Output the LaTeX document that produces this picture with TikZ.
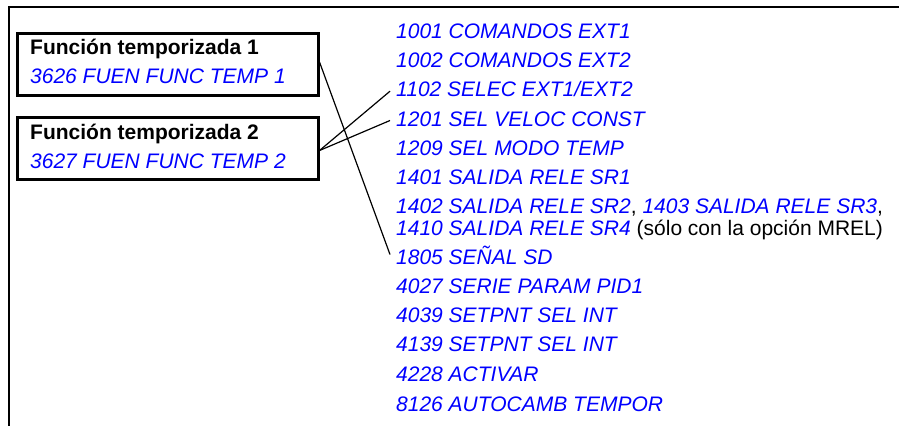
\documentclass[tikz,border=0pt]{standalone}
\usepackage{fontspec}
\setmainfont{Liberation Sans}
\begin{document}
\begin{tikzpicture}[x=1pt,y=-1pt,
  font=\fontsize{21}{25}\selectfont,
  frame/.style={line width=1.8pt},
  boxnode/.style={draw, line width=3pt, minimum width=301pt, minimum height=62pt, inner sep=0pt},
  conn/.style={line width=1.2pt},
  head/.style={anchor=base west, inner sep=0pt, font=\fontsize{21}{25}\selectfont\bfseries},
  par/.style={anchor=base west, inner sep=0pt, text=blue, font=\fontsize{21}{25}\selectfont\itshape},
  item/.style={anchor=base west, inner xsep=6pt, inner ysep=0pt, text height=15pt, text depth=4pt, text=blue, font=\fontsize{21}{25}\selectfont\itshape}
]
\useasboundingbox (0,0) rectangle (899,426);
% open frame
\coordinate (ftr) at (899,7);
\coordinate (ftl) at (9,7);
\coordinate (fbl) at (9,426);
\draw[frame] (ftr) -- (ftl) -- (fbl);
% boxes
\node[boxnode] (box1) at (167.5,64) {};
\node[boxnode] (box2) at (167.5,148.5) {};
\node[head] (h1) at (30,54.3) {Función temporizada 1};
\node[par] (p1) at (30,83.3) {3626 FUEN FUNC TEMP 1};
\node[head] (h2) at (30,139.3) {Función temporizada 2};
\node[par] (p2) at (30,168.3) {3627 FUEN FUNC TEMP 2};
% list
\node[item] (i1001) at (390,38.3) {1001 COMANDOS EXT1};
\node[item] (i1002) at (390,67) {1002 COMANDOS EXT2};
\node[item] (i1102) at (390,96.7) {1102 SELEC EXT1/EXT2};
\node[item] (i1201) at (390,126) {1201 SEL VELOC CONST};
\node[item] (i1209) at (390,155) {1209 SEL MODO TEMP};
\node[item] (i1401) at (390,184.3) {1401 SALIDA RELE SR1};
\node[item] (i1402) at (390,213.3) {1402 SALIDA RELE SR2\textcolor{black}{\upshape,} 1403 SALIDA RELE SR3\textcolor{black}{\upshape,}};
\node[item] (i1410) at (390,235) {1410 SALIDA RELE SR4 \textcolor{black}{\upshape(sólo con la opción MREL)}};
\node[item] (i1805) at (390,264) {1805 SEÑAL SD};
\node[item] (i4027) at (390,293.3) {4027 SERIE PARAM PID1};
\node[item] (i4039) at (390,322.7) {4039 SETPNT SEL INT};
\node[item] (i4139) at (390,351.7) {4139 SETPNT SEL INT};
\node[item] (i4228) at (390,381) {4228 ACTIVAR};
\node[item] (i8126) at (390,411.7) {8126 AUTOCAMB TEMPOR};
% connectors
\draw[conn] ([yshift=2pt]box1.east) -- ([yshift=4pt]i1805.west);
\draw[conn] ([yshift=-2pt]box2.east) -- (i1102.west);
\draw[conn] ([yshift=-2pt]box2.east) -- (i1201.west);
\end{tikzpicture}
\end{document}
